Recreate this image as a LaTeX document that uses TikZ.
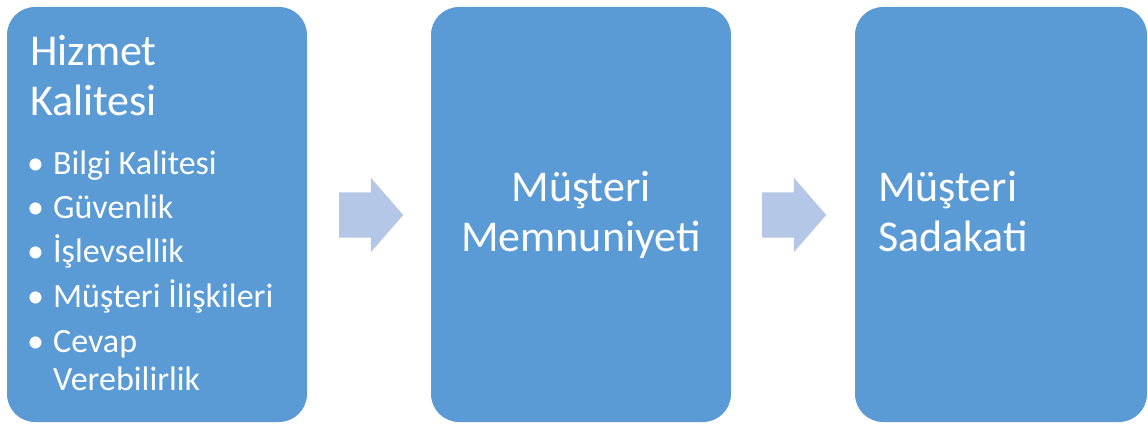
\documentclass[tikz,border=0pt]{standalone}
\usepackage{fontspec}
\setmainfont{Carlito}
\usetikzlibrary{shapes.arrows}
\definecolor{boxblue}{HTML}{5B9BD5}
\definecolor{arrowblue}{HTML}{B4C7E7}
\tikzset{
  stagebox/.style={rectangle, rounded corners=28pt, fill=boxblue, draw=none,
    minimum height=415pt, inner sep=0pt},
  flowarrow/.style={single arrow, fill=arrowblue, draw=none, inner xsep=0pt,
    inner ysep=22.5pt, minimum height=64pt, single arrow head extend=14.5pt,
    single arrow tip angle=98, anchor=tail},
  heading/.style={text=white, align=left, inner sep=0pt, font=\fontsize{44}{50}\selectfont},
  itemlist/.style={text=white, align=left, inner sep=0pt, font=\fontsize{34}{38}\selectfont}
}
\newcommand{\bulletitem}[1]{\makebox[26pt][l]{•}#1}
\begin{document}
\begin{tikzpicture}[x=1pt, y=1pt]
    \useasboundingbox (0,0) rectangle (1148,423);
    % Boxes
    \node[stagebox, minimum width=300pt] (quality) at (157,208.5) {};
    \node[stagebox, minimum width=300pt] (satisfaction) at (581,208.5) {};
    \node[stagebox, minimum width=292pt] (loyalty) at (1001,208.5) {};
    % Block arrows
    \node[flowarrow] (arrowA) at (339,208) {};
    \node[flowarrow] (arrowB) at (762,208) {};
    % Texts (base = last line)
    \node[heading, anchor=base west] (qualitytitle) at (30,307) {Hizmet\\Kalitesi};
    \node[itemlist, anchor=base west] (qualityitems) at (27,33)
        {\bulletitem{Bilgi Kalitesi}\\[6.5pt]
         \bulletitem{Güvenlik}\\[6.5pt]
         \bulletitem{İşlevsellik}\\[6.5pt]
         \bulletitem{Müşteri İlişkileri}\\[6.5pt]
         \bulletitem{Cevap}\\
         \hspace*{26pt}Verebilirlik};
    \node[heading, align=center, anchor=base] (satisfactiontext) at (581,171) {Müşteri\\Memnuniyeti};
    \node[heading, anchor=base west] (loyaltytext) at (878,171) {Müşteri\\Sadakati};
\end{tikzpicture}
\end{document}
